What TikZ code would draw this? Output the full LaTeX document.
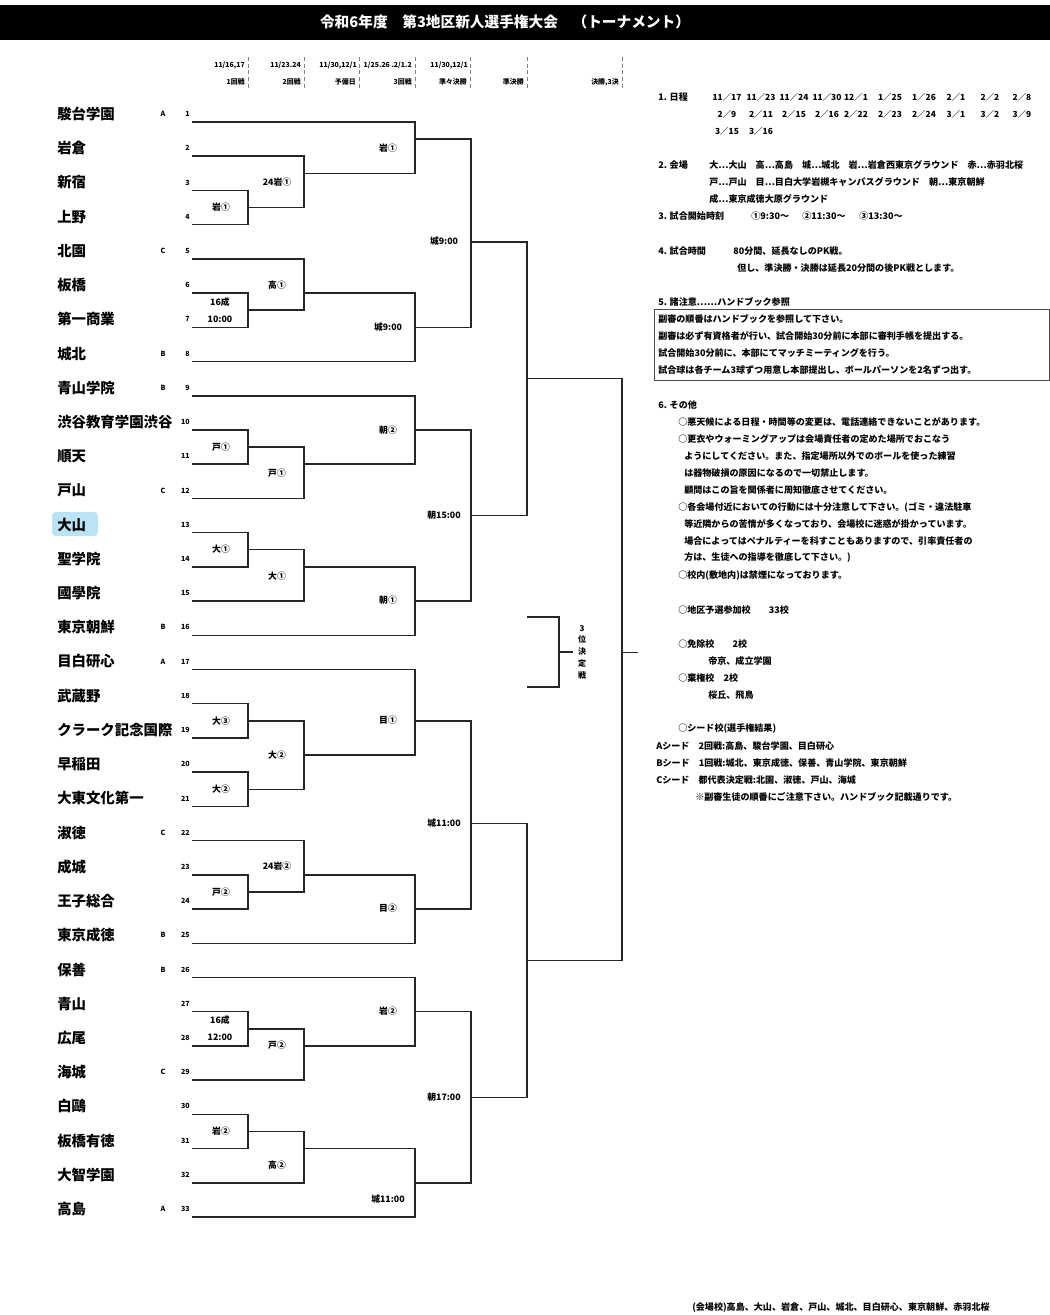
\documentclass[tikz,border=0pt]{standalone}
\usepackage{fontspec}
\setmainfont{Noto Sans CJK JP}
\usetikzlibrary{positioning}
\definecolor{hilite}{RGB}{186,228,246}
\newcommand{\tmatch}[7]{%
  \coordinate (#1) at (#4, {122+#5*17.11});
  \path[bracket] (#2) -- (#2 -| #1) -- (#3 -| #1) -- (#3);
  \node[mlabel] (#1-lab) at ({#4-27}, #7) {#6};
}
\begin{document}
\begin{tikzpicture}[x=0.75pt, y=-0.75pt]
    \tikzstyle{bracket} = [draw, line width=1.1pt, black!85]
    \tikzstyle{headline} = [inner sep=0pt, white, font=\fontsize{11}{13}\selectfont\bfseries]
    \tikzstyle{team} = [anchor=west, inner sep=0pt, font=\fontsize{10.8}{12}\selectfont\bfseries]
    \tikzstyle{num} = [anchor=east, inner sep=0pt, font=\fontsize{5.3}{6}\selectfont\bfseries]
    \tikzstyle{seed} = [inner sep=0pt, font=\fontsize{5.3}{6}\selectfont\bfseries]
    \tikzstyle{hdr} = [anchor=east, inner sep=0pt, font=\fontsize{5.2}{6}\selectfont\bfseries]
    \tikzstyle{mlabel} = [inner sep=0pt, font=\fontsize{6.6}{8}\selectfont\bfseries]
    \tikzstyle{note} = [anchor=west, inner sep=0pt, font=\fontsize{6.8}{8}\selectfont\bfseries]
    \tikzstyle{datecell} = [inner sep=0pt, font=\fontsize{6.3}{8}\selectfont\bfseries]
    \useasboundingbox (0,0) rectangle (1050,1315);
    \fill[black] (0,5) rectangle (1050,40);
    \node[headline] (heading) at (505,22) {令和6年度　第3地区新人選手権大会　（トーナメント）};

    \foreach \cx in {248,304,359,415,470,527,622}
        \draw[gray, densely dashed, line width=0.4pt] (\cx,57) -- (\cx,89);
    \node[hdr] (dt1) at (245,65) {11/16,17};
    \node[hdr] (dt2) at (301,65) {11/23.24};
    \node[hdr] (dt3) at (357,65) {11/30,12/1};
    \node[hdr] (dt4) at (412,65) {1/25.26 .2/1.2};
    \node[hdr] (dt5) at (468,65) {11/30,12/1};
    \foreach \cx/\rd [count=\k] in {248/1回戦,304/2回戦,359/予備日,415/3回戦,470/準々決勝,527/準決勝,622/{決勝,3決}}
        \node[hdr] (rd\k) at ({\cx-3},82) {\rd};

    \fill[hilite, rounded corners=3pt] (52,512) rectangle (98,536);
    \foreach \nm [count=\i] in {駿台学園,岩倉,新宿,上野,北園,板橋,第一商業,城北,青山学院,渋谷教育学園渋谷,順天,戸山,大山,聖学院,國學院,東京朝鮮,目白研心,武蔵野,クラーク記念国際,早稲田,大東文化第一,淑徳,成城,王子総合,東京成徳,保善,青山,広尾,海城,白鷗,板橋有徳,大智学園,高島}
    {
        \node[team] (n\i) at (57, {114+(\i-1)*34.22}) {\nm};
        \node[num] (no\i) at (190, {114+(\i-1)*34.22}) {\i};
        \coordinate (t\i) at (192, {122+(\i-1)*34.22});
    }
    \foreach \i/\sd in {1/A,5/C,8/B,9/B,12/C,16/B,17/A,22/C,25/B,26/B,29/C,33/A}
        \node[seed] (sd\i) at (163, {114+(\i-1)*34.22}) {\sd};

    \tmatch{a1}{t3}{t4}{248}{5}{岩①}{207}
    \tmatch{a2}{t2}{a1}{304}{3}{24岩①}{182}
    \tmatch{a3}{t1}{a2}{415}{1}{岩①}{148}
    \tmatch{a4}{t6}{t7}{248}{11}{}{310}
    \tmatch{a5}{t5}{a4}{304}{10}{高①}{285}
    \tmatch{a6}{a5}{t8}{415}{12}{城9:00}{327}
    \tmatch{a7}{a3}{a6}{471}{7}{城9:00}{241}
    \tmatch{b1}{t10}{t11}{248}{19}{戸①}{447}
    \tmatch{b2}{b1}{t12}{304}{20}{戸①}{473}
    \tmatch{b3}{t9}{b2}{415}{18}{朝②}{430}
    \tmatch{b4}{t13}{t14}{248}{25}{大①}{549}
    \tmatch{b5}{b4}{t15}{304}{26}{大①}{576}
    \tmatch{b6}{b5}{t16}{415}{28}{朝①}{600}
    \tmatch{b7}{b3}{b6}{471}{23}{朝15:00}{515}
    \tmatch{s1}{a7}{b7}{527}{15}{}{378}
    \tmatch{c1}{t18}{t19}{248}{35}{大③}{721}
    \tmatch{c2}{t20}{t21}{248}{39}{大②}{789}
    \tmatch{c3}{c1}{c2}{304}{37}{大②}{755}
    \tmatch{c4}{t17}{c3}{415}{35}{目①}{720}
    \tmatch{c5}{t23}{t24}{248}{45}{戸②}{892}
    \tmatch{c6}{t22}{c5}{304}{44}{24岩②}{866}
    \tmatch{c7}{c6}{t25}{415}{46}{目②}{908}
    \tmatch{c8}{c4}{c7}{471}{41}{城11:00}{823}
    \tmatch{d1}{t27}{t28}{248}{53}{}{1029}
    \tmatch{d2}{d1}{t29}{304}{54}{戸②}{1045}
    \tmatch{d3}{t26}{d2}{415}{52}{岩②}{1011}
    \tmatch{d4}{t30}{t31}{248}{59}{岩②}{1131}
    \tmatch{d5}{d4}{t32}{304}{60}{高②}{1165}
    \tmatch{d6}{d5}{t33}{415}{62}{城11:00}{1199}
    \tmatch{d7}{d3}{d6}{471}{57}{朝17:00}{1097}
    \tmatch{s2}{c8}{d7}{527}{49}{}{960}
    \tmatch{fin}{s1}{s2}{622}{31}{}{652}
    \coordinate (finend) at (638, {122+31*17.11});
    \path[bracket] (fin) -- (finend);
    \node[mlabel] (tm1) at (220,302) {16成};
    \node[mlabel] (tm2) at (220,319) {10:00};
    \node[mlabel] (tm3) at (220,1020) {16成};
    \node[mlabel] (tm4) at (220,1037) {12:00};

    \coordinate (q1) at (527,617);
    \coordinate (q2) at (527,687);
    \coordinate (q) at (559,652);
    \coordinate (qend) at (573,652);
    \path[bracket] (q1) -- (q1 -| q) -- (q2 -| q) -- (q2);
    \path[bracket] (q) -- (qend);
    \node[mlabel, align=center, font=\fontsize{6}{8.8}\selectfont\bfseries] (third) at (582,652) {3\\位\\決\\定\\戦};

    \node[note] (s1h) at (658,97) {1. 日程};
    \foreach \cx/\d [count=\k] in {727/11／17,761/11／23,794/11／24,827/11／30,856/12／1,890/1／25,924/1／26,956/2／1,990/2／2,1022/2／8}
        \node[datecell] (da\k) at (\cx,97) {\d};
    \foreach \cx/\d [count=\k] in {727/2／9,761/2／11,794/2／15,827/2／16,856/2／22,890/2／23,924/2／24,956/3／1,990/3／2,1022/3／9}
        \node[datecell] (db\k) at (\cx,114) {\d};
    \node[datecell] (dc1) at (727,131) {3／15};
    \node[datecell] (dc2) at (761,131) {3／16};

    \node[note] (s2h) at (658,165) {2. 会場};
    \node[note] (v1) at (709,165) {大…大山　高…高島　城…城北　岩…岩倉西東京グラウンド　赤…赤羽北桜};
    \node[note] (v2) at (709,182) {戸…戸山　目…目白大学岩槻キャンパスグラウンド　朝…東京朝鮮};
    \node[note] (v3) at (709,199) {成…東京成徳大原グラウンド};
    \node[note] (s3h) at (658,216) {3. 試合開始時刻};
    \node[note] (tk1) at (751,216) {①9:30～};
    \node[note] (tk2) at (802,216) {②11:30～};
    \node[note] (tk3) at (859,216) {③13:30～};
    \node[note] (s4h) at (658,251) {4. 試合時間};
    \node[note] (g1) at (733,251) {80分間、延長なしのPK戦。};
    \node[note] (g2) at (737,268) {但し、準決勝・決勝は延長20分間の後PK戦とします。};
    \node[note] (s5h) at (658,302) {5. 諸注意……ハンドブック参照};
    \draw[black!70, line width=0.6pt] (654,309) rectangle (1049,380);
    \node[note] (c1t) at (658,319) {副審の順番はハンドブックを参照して下さい。};
    \node[note] (c2t) at (658,336) {副審は必ず有資格者が行い、試合開始30分前に本部に審判手帳を提出する。};
    \node[note] (c3t) at (658,353) {試合開始30分前に、本部にてマッチミーティングを行う。};
    \node[note] (c4t) at (658,370) {試合球は各チーム3球ずつ用意し本部提出し、ボールパーソンを2名ずつ出す。};
    \node[note] (s6h) at (658,405) {6. その他};
    \node[note] (o1) at (678,422) {○悪天候による日程・時間等の変更は、電話連絡できないことがあります。};
    \node[note] (o2) at (678,439) {○更衣やウォーミングアップは会場責任者の定めた場所でおこなう};
    \node[note] (o3) at (684,456) {ようにしてください。また、指定場所以外でのボールを使った練習};
    \node[note] (o4) at (684,473) {は器物破損の原因になるので一切禁止します。};
    \node[note] (o5) at (684,490) {顧問はこの旨を関係者に周知徹底させてください。};
    \node[note] (o6) at (678,507) {○各会場付近においての行動には十分注意して下さい。(ゴミ・違法駐車};
    \node[note] (o7) at (684,524) {等近隣からの苦情が多くなっており、会場校に迷惑が掛かっています。};
    \node[note] (o8) at (684,541) {場合によってはペナルティーを科すこともありますので、引率責任者の};
    \node[note] (o9) at (684,558) {方は、生徒への指導を徹底して下さい。)};
    \node[note] (o10) at (678,575) {○校内(敷地内)は禁煙になっております。};
    \node[note] (o11) at (678,610) {○地区予選参加校　　33校};
    \node[note] (o12) at (678,644) {○免除校　　2校};
    \node[note] (o13) at (708,661) {帝京、成立学園};
    \node[note] (o14) at (678,678) {○棄権校　2校};
    \node[note] (o15) at (708,695) {桜丘、飛鳥};
    \node[note] (o16) at (678,729) {○シード校(選手権結果)};
    \node[note] (o17) at (656,746) {Aシード　2回戦:高島、駿台学園、目白研心};
    \node[note] (o18) at (656,763) {Bシード　1回戦:城北、東京成徳、保善、青山学院、東京朝鮮};
    \node[note] (o19) at (656,780) {Cシード　都代表決定戦:北園、淑徳、戸山、海城};
    \node[note] (o20) at (695,797) {※副審生徒の順番にご注意下さい。ハンドブック記載通りです。};
    \node[note] (foot) at (692,1307) {(会場校)高島、大山、岩倉、戸山、城北、目白研心、東京朝鮮、赤羽北桜};
\end{tikzpicture}
\end{document}
